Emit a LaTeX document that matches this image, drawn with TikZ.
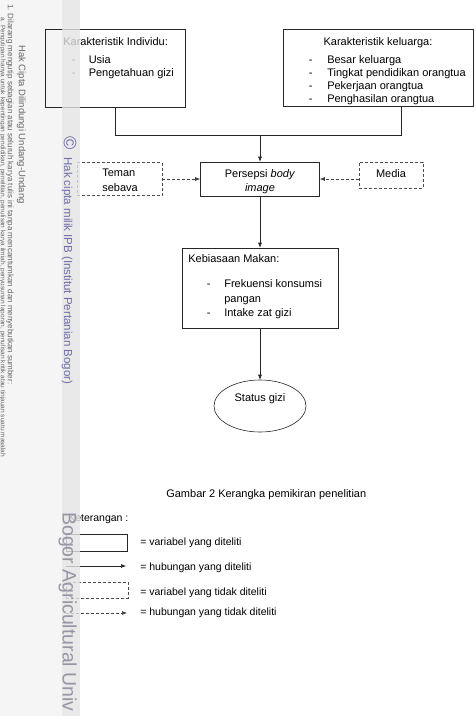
\documentclass[tikz,border=0pt]{standalone}
\usepackage{fontspec}
\setmainfont{Liberation Sans}
\usetikzlibrary{arrows.meta,shapes.geometric}
\definecolor{wmblue}{RGB}{112,108,170}
\definecolor{wmgray}{RGB}{150,150,165}

\begin{document}
\begin{tikzpicture}[x=1pt, y=-1pt, line width=0.6pt, >={Latex[length=5pt,width=4pt]},
    font=\fontsize{11}{13}\selectfont,
    box/.style = {draw=black!85, inner sep=0},
    dbox/.style = {draw=black!70, dash pattern=on 3pt off 2pt, inner sep=0},
    dline/.style = {black!75, dash pattern=on 3pt off 2pt},
    txt/.style = {anchor=base west, inner sep=0},
    ctxt/.style = {anchor=base, inner sep=0},
    wm/.style = {rotate=-90, anchor=base west, inner sep=0}]
    \useasboundingbox (0,0) rectangle (475,716);
    \clip (0,0) rectangle (475,716);
    \fill[black!4] (0,0) rectangle (62,716);

    % kotak variabel
    \node[box, minimum width=140, minimum height=78] (ind) at (115,68) {};
    \node[txt] (ind-t) at (63,45) {Karakteristik Individu:};
    \node[txt] (ind-l) at (71.5,63) {\begin{tabular}[t]{@{}p{17pt}@{}l@{}}- & Usia\\- & Pengetahuan gizi\end{tabular}};

    \node[box, minimum width=190, minimum height=77] (kel) at (378,68) {};
    \node[ctxt] (kel-t) at (378,45) {Karakteristik keluarga:};
    \node[txt] (kel-l) at (308.5,63) {\begin{tabular}[t]{@{}p{18.5pt}@{}l@{}}- & Besar keluarga\\- & Tingkat pendidikan orangtua\\- & Pekerjaan orangtua\\- & Penghasilan orangtua\end{tabular}};

    \node[box, minimum width=119, minimum height=34] (per) at (260,179) {};
    \node[ctxt] (per-t) at (260,177) {\begin{tabular}[t]{@{}c@{}}Persepsi \textit{body}\\[1pt]\textit{image}\end{tabular}};

    \node[dbox, minimum width=85, minimum height=33] (tem) at (119.5,179) {};
    \node[txt] (tem-t) at (102,176) {\begin{tabular}[t]{@{}l@{}}Teman\\[2pt]sebava\end{tabular}};

    \node[dbox, minimum width=64, minimum height=26] (med) at (391,175) {};
    \node[ctxt] (med-t) at (391,177) {Media};

    \node[box, minimum width=156, minimum height=80] (keb) at (260,288) {};
    \node[txt] (keb-t) at (188,262) {Kebiasaan Makan:};
    \node[txt] (keb-l) at (206.5,287) {\begin{tabular}[t]{@{}p{17.5pt}@{}l@{}}- & Frekuensi konsumsi\\[2pt] & pangan\\[1pt]- & Intake zat gizi\end{tabular}};

    \node[box, ellipse, minimum width=92, minimum height=52] (sta) at (260,406) {};
    \node[ctxt] (sta-t) at (260,401) {Status gizi};

    % hubungan
    \coordinate (join) at (260,135);
    \draw[black!85] (ind.south) |- (join);
    \draw[black!85] ([xshift=23]kel.south) |- (join);
    \draw[black!85, ->] (join) -- (per.north);
    \draw[black!85, ->] (per) -- (keb);
    \draw[black!85, ->] (keb) -- (sta);
    \draw[dline, ->] (tem) -- (per);
    \draw[dline, ->] (med.west |- per) -- (per);

    \node[txt] (cap) at (166,497) {Gambar 2 Kerangka pemikiran penelitian};

    % keterangan
    \begin{scope}[font=\fontsize{10.5}{13}\selectfont]
    \node[txt] (ket) at (68,521) {Keterangan :};
    \node[box, minimum width=61, minimum height=17] (lg1) at (96.5,542.5) {};
    \node[txt] (lg1-t) at (140,545) {= variabel yang diteliti};
    \coordinate (lg2a) at (66,566);
    \coordinate (lg2b) at (126,566);
    \draw[black!85, ->] (lg2a) -- (lg2b);
    \node[txt] (lg2-t) at (140,570) {= hubungan yang diteliti};
    \node[dbox, minimum width=62, minimum height=16] (lg3) at (97,590) {};
    \node[txt] (lg3-t) at (140,595.5) {= variabel yang tidak diteliti};
    \coordinate (lg4a) at (66,613);
    \coordinate (lg4b) at (127,613);
    \draw[dline, ->] (lg4a) -- (lg4b);
    \node[txt] (lg4-t) at (140,615) {= hubungan yang tidak diteliti};
    \end{scope}

    % watermark
    \fill[gray!22, fill opacity=0.8] (62,0) rectangle (80,716);
    \node[rotate=-90, inner sep=0, text=wmblue, font=\fontsize{18}{18}\selectfont] (copy) at (70,143) {\textcopyright};
    \node[wm, text=wmblue, font=\fontsize{11.5}{11.5}\selectfont] (hak) at (64,157) {Hak cipta milik IPB (Institut Pertanian Bogor)};
    \node[wm, text=wmgray, font=\fontsize{19.5}{19.5}\selectfont] (bau) at (62.5,512) {Bogor Agricultural Univ};
    \node[wm, text=black!60, font=\fontsize{9.5}{9.5}\selectfont] (hc) at (19,45) {Hak Cipta Dilindungi Undang-Undang};
    \node[wm, text=black!60, font=\fontsize{8}{8}\selectfont] (hc1) at (8,4) {1. Dilarang mengutip sebagian atau seluruh karya tulis ini tanpa mencantumkan dan menyebutkan sumber:};
    \node[wm, text=black!60, font=\fontsize{6.5}{6.5}\selectfont] (hc2) at (1,17) {a. Pengutipan hanya untuk kepentingan pendidikan, penelitian, penulisan karya ilmiah, penyusunan laporan, penulisan kritik atau tinjauan suatu masalah};
\end{tikzpicture}
\end{document}
